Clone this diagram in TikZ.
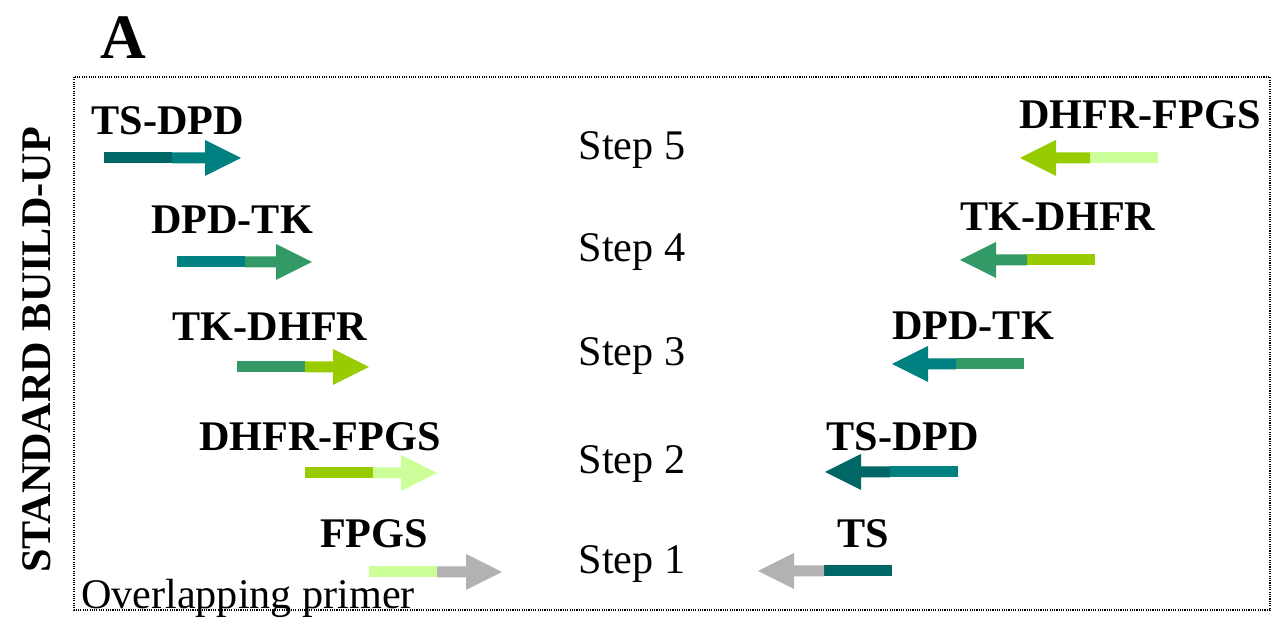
\documentclass[tikz,border=0pt]{standalone}
\usepackage{fontspec}
\setmainfont{Liberation Serif}
\usepackage{tikz}
\definecolor{colTS}{HTML}{006666}
\definecolor{colDPD}{HTML}{008080}
\definecolor{colTK}{HTML}{339966}
\definecolor{colDHFR}{HTML}{99CC00}
\definecolor{colFPGS}{HTML}{CCFF99}
\definecolor{colOver}{HTML}{B2B2B2}

% tail x, tip x, y, tail colour, head colour
\newcommand{\primer}[5]{%
  \pgfmathsetmacro{\pdir}{sign(#2-#1)}%
  \pgfmathsetmacro{\pxc}{#1+68*\pdir}%
  \pgfmathsetmacro{\pxb}{#2-36*\pdir}%
  \fill[#4] (#1,#3-5.5) rectangle (\pxc,#3+5.5);
  \fill[#5] (\pxc,#3-5.5) -- (\pxb,#3-5.5) -- (\pxb,#3-18) -- (#2,#3)
        -- (\pxb,#3+18) -- (\pxb,#3+5.5) -- (\pxc,#3+5.5) -- cycle;%
}

\begin{document}
\begin{tikzpicture}[x=0.01cm, y=-0.01cm]

\tikzset{
  gene/.style={font=\fontsize{12}{14}\selectfont\bfseries, inner sep=0pt},
  steplabel/.style={font=\fontsize{12}{14}\selectfont, inner sep=0pt},
  frame/.style={line width=0.4pt, dash pattern=on 0.3pt off 0.35pt},
}

\useasboundingbox (0,0) rectangle (1275,619);

\draw[frame] (74,77) rectangle (1270,610);

\node[font=\fontsize{18}{20}\selectfont\bfseries, inner sep=0pt] (panel) at (123,38) {A};
\node[gene, rotate=90] (side) at (37,350) {STANDARD BUILD-UP};
\node[steplabel] (overlap) at (248,598) {Overlapping primer};

% steps
\foreach \n/\y in {5/150,4/252,3/356,2/464,1/564}
  \node[steplabel] (step\n) at (632,\y) {Step \n};

% left primers
\primer{104}{241}{158}{colTS}{colDPD}
\primer{177}{312}{262}{colDPD}{colTK}
\primer{237}{369}{367}{colTK}{colDHFR}
\primer{305}{437}{473}{colDHFR}{colFPGS}
\primer{369}{502}{572}{colFPGS}{colOver}

\node[gene] (l5) at (168,121) {TS-DPD};
\node[gene] (l4) at (232,220) {DPD-TK};
\node[gene] (l3) at (270,327) {TK-DHFR};
\node[gene] (l2) at (320,437) {DHFR-FPGS};
\node[gene] (l1) at (374,534) {FPGS};

% right primers
\primer{1158}{1020}{158}{colFPGS}{colDHFR}
\primer{1095}{960}{260}{colDHFR}{colTK}
\primer{1024}{892}{364}{colTK}{colDPD}
\primer{958}{825}{472}{colDPD}{colTS}
\primer{892}{758}{571}{colTS}{colOver}

\node[gene] (r5) at (1140,115) {DHFR-FPGS};
\node[gene] (r4) at (1058,217) {TK-DHFR};
\node[gene] (r3) at (973,326) {DPD-TK};
\node[gene] (r2) at (903,437) {TS-DPD};
\node[gene] (r1) at (863,534) {TS};

\end{tikzpicture}
\end{document}
